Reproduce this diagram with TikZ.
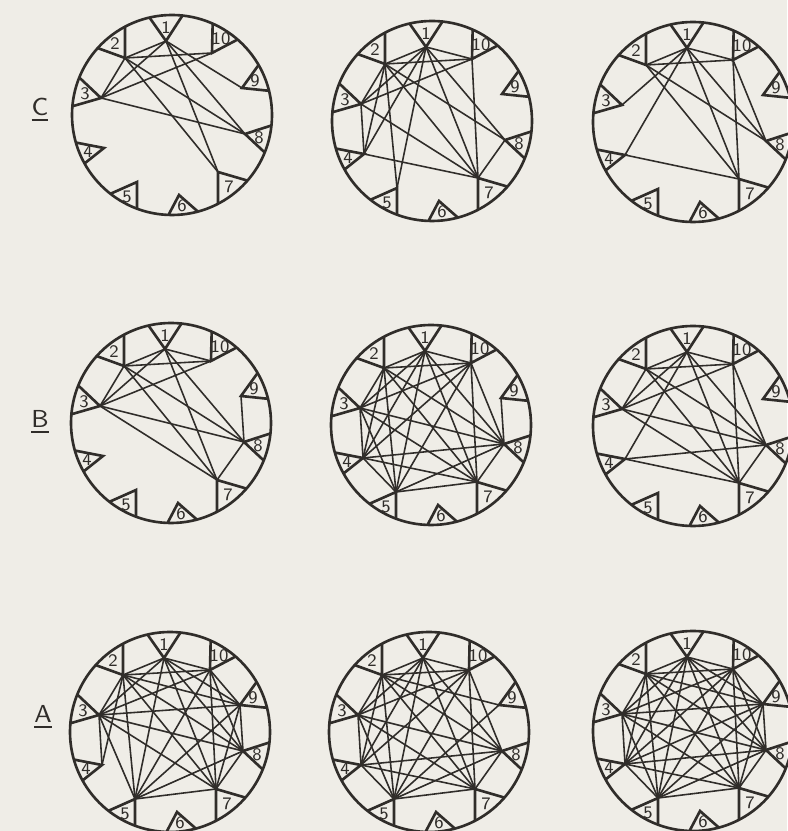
\documentclass[tikz,border=0pt]{standalone}
\definecolor{paper}{RGB}{239,237,231}
\definecolor{ink}{RGB}{48,45,42}

% station k / apex x / apex y / rim angle / rim angle / number x / number y
\def\stationlist{1/-0.06/0.74/103/84/-0.06/0.87,
  2/-0.47/0.57/118/138/-0.57/0.71,
  3/-0.71/0.17/158/175/-0.87/0.21,
  4/-0.68/-0.33/-164/-151/-0.84/-0.37,
  5/-0.35/-0.67/-128/-110.5/-0.45/-0.82,
  6/0.07/-0.80/-92/-75/0.10/-0.91,
  7/0.46/-0.57/-62.6/-41/0.57/-0.72,
  8/0.73/-0.19/-6/-22/0.87/-0.23,
  9/0.70/0.27/30/14/0.83/0.34,
  10/0.40/0.62/66/49/0.49/0.76}

% one disc: name, centre x, centre y
\newcommand{\ring}[3]{%
  \begin{scope}[shift={(#2,#3)}]
    \draw[rim] (0,0) circle (1);
    \foreach \k/\ax/\ay/\p/\q/\lx/\ly in \stationlist {
      \draw[rim] (\p:1) -- (\ax,\ay) coordinate (#1-\k) -- (\q:1);
      \node[num] (#1-n\k) at (\lx,\ly) {\k};
    }
  \end{scope}}
% listed links
\newcommand{\links}[2]{\foreach \a/\b in {#2} \draw[chord] (#1-\a) -- (#1-\b);}
% every pair of a list
\newcommand{\allpairs}[2]{%
  \foreach \a [count=\i] in {#2} {\foreach \b [count=\j] in {#2} {%
    \ifnum\i<\j \draw[chord] (#1-\a) -- (#1-\b);\fi}}}

\begin{document}
\begin{tikzpicture}[rim/.style={ink, line width=0.75pt},
  chord/.style={ink, line width=0.45pt},
  num/.style={font=\sffamily\fontsize{5}{5}\selectfont, text=ink, inner sep=0pt},
  row/.style={font=\sffamily\fontsize{7}{8}\selectfont, text=ink, inner sep=0pt}]
\fill[paper] (0,0) rectangle (7.87,8.31);
\useasboundingbox (0,0) rectangle (7.87,8.31);

\node[row] (rowC) at (0.40,7.21) {\underline{C}};
\node[row] (rowB) at (0.40,4.09) {\underline{B}};
\node[row] (rowA) at (0.43,1.14) {\underline{A}};

% row C
\ring{C1}{1.72}{7.16}
\links{C1}{1/2,1/3,2/3,3/10,2/10,1/7,1/8,1/9,2/7,2/8,3/8}
\ring{C2}{4.32}{7.10}
\links{C2}{1/2,1/3,1/4,1/5,1/7,1/8,1/10,2/3,2/4,2/5,2/7,2/8,2/10,3/4,3/7,3/10,4/7,7/10,7/8}
\ring{C3}{6.93}{7.09}
\links{C3}{1/2,1/3,1/4,1/7,1/8,1/10,2/10,2/7,2/8,7/10,8/10,4/7}

% row B
\ring{B1}{1.71}{4.08}
\links{B1}{1/2,1/3,1/10,2/3,2/10,3/10,1/7,1/8,2/7,2/8,3/7,3/8,7/8,8/9}
\ring{B2}{4.31}{4.06}
\allpairs{B2}{1,2,3,4,5,7,8,10}
\links{B2}{8/9}
\ring{B3}{6.93}{4.05}
\links{B3}{1/2,1/3,1/4,1/7,1/8,1/10,2/3,2/7,2/8,2/10,3/7,3/8,3/10,4/7,4/8,7/8,7/10,8/10}

% row A
\ring{A1}{1.70}{0.99}
\allpairs{A1}{1,2,3,5,7,8,9,10}
\links{A1}{2/4,3/4}
\ring{A2}{4.29}{0.99}
\allpairs{A2}{1,2,3,4,5,7,8,10}
\links{A2}{2/9,5/9}
\ring{A3}{6.93}{1.00}
\allpairs{A3}{1,2,3,4,5,7,8,9,10}
\end{tikzpicture}
\end{document}
